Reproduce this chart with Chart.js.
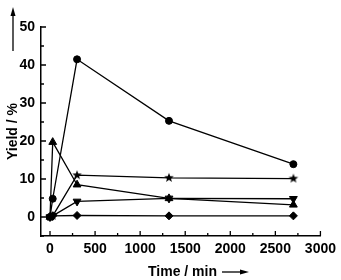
<!DOCTYPE html>
<html>
<head>
<meta charset="utf-8">
<script src="https://cdn.jsdelivr.net/npm/chart.js@4"></script>
<style>
  html, body { margin: 0; padding: 0; background: #fff; }
  #wrap { width: 341px; height: 280px; }
</style>
</head>
<body>
<div id="wrap"><canvas id="myChart"></canvas></div>
<script>
// data
let times = [0, 30, 300, 1320, 2700];
let circleYield = [0, 4.8, 41.5, 25.3, 13.9];
let starYield = [0, 0.3, 11.0, 10.3, 10.1];
let triUpYield = [0, 19.7, 8.5, 4.9, 3.2];
let triDownYield = [0, 0.3, 4.1, 4.9, 4.8];
let diamondYield = [0, 0.3, 0.4, 0.3, 0.3];

let xTicks = [0, 500, 1000, 1500, 2000, 2500, 3000];
let yTicks = [0, 10, 20, 30, 40, 50];

Chart.defaults.font.family = 'Liberation Sans, Arial, sans-serif';
Chart.defaults.font.weight = 700;
Chart.defaults.font.size = 14;
let font = { family: 'Liberation Sans, Arial, sans-serif', size: 14, weight: 700 };

// filled five point star for the star series
function makeStar(r) {
    let c = document.createElement('canvas');
    c.width = r * 2 + 2;
    c.height = r * 2 + 2;
    let g = c.getContext('2d');
    g.beginPath();
    for (let i = 0; i < 10; i++) {
        let a = -Math.PI / 2 + i * Math.PI / 5;
        let rr = i % 2 === 0 ? r : r * 0.42;
        g.lineTo(r + 1 + rr * Math.cos(a), r + 1 + rr * Math.sin(a));
    }
    g.closePath();
    g.fillStyle = '#000';
    g.fill();
    return c;
}

function pts(ys) {
    return times.map((t, i) => ({ x: t, y: ys[i] }));
}

function series(ys, style, radius, rotation) {
    return {
        data: pts(ys),
        borderColor: '#000',
        backgroundColor: '#000',
        borderWidth: 1.3,
        pointStyle: style,
        pointRadius: radius,
        pointRotation: rotation || 0,
        pointBorderWidth: 1,
        pointBorderColor: '#000',
        pointBackgroundColor: '#000',
        tension: 0
    };
}

// inward ticks, axis titles and arrows
let decorations = {
    id: 'decorations',
    afterDraw(chart) {
        let ctx = chart.ctx;
        let xs = chart.scales.x;
        let ys = chart.scales.y;
        let area = chart.chartArea;
        ctx.save();
        ctx.strokeStyle = '#000';
        ctx.fillStyle = '#000';
        ctx.lineWidth = 1.3;
        ctx.beginPath();
        for (let v = 0; v <= 3000; v += 250) {
            let px = xs.getPixelForValue(v);
            let len = v % 500 === 0 ? 5 : 3;
            ctx.moveTo(px, area.bottom);
            ctx.lineTo(px, area.bottom - len);
        }
        for (let v = -5; v <= 50; v += 5) {
            let py = ys.getPixelForValue(v);
            let len = v % 10 === 0 ? 5 : 3;
            ctx.moveTo(area.left, py);
            ctx.lineTo(area.left + len, py);
        }
        ctx.stroke();

        ctx.font = 'bold 14px "Liberation Sans", Arial, sans-serif';
        ctx.textBaseline = 'middle';

        // x title
        ctx.textAlign = 'left';
        ctx.fillText('Time / min', 148, 272);
        ctx.beginPath();
        ctx.moveTo(222, 272);
        ctx.lineTo(242, 272);
        ctx.stroke();
        ctx.beginPath();
        ctx.moveTo(249, 272);
        ctx.lineTo(240, 269.5);
        ctx.lineTo(240, 274.5);
        ctx.closePath();
        ctx.fill();

        // y title
        ctx.save();
        ctx.translate(13, (area.top + area.bottom) / 2);
        ctx.rotate(-Math.PI / 2);
        ctx.textAlign = 'center';
        ctx.fillText('Yield / %', 0, 0);
        ctx.restore();
        ctx.beginPath();
        ctx.moveTo(13, 51);
        ctx.lineTo(13, 15);
        ctx.stroke();
        ctx.beginPath();
        ctx.moveTo(13, 7);
        ctx.lineTo(10.5, 16);
        ctx.lineTo(15.5, 16);
        ctx.closePath();
        ctx.fill();
        ctx.restore();
    }
};

const ctx = document.getElementById('myChart').getContext('2d');
const myChart = new Chart(ctx, {
    type: 'line',
    data: {
        datasets: [
            series(circleYield, 'circle', 3.5),
            series(starYield, makeStar(5), 5),
            series(triUpYield, 'triangle', 4.5),
            series(triDownYield, 'triangle', 4.5, 180),
            series(diamondYield, 'rectRot', 4)
        ]
    },
    options: {
        responsive: true,
        maintainAspectRatio: false,
        animation: false,
        layout: { padding: { top: 27, right: 17, left: 0, bottom: 0 } },
        plugins: { legend: { display: false }, tooltip: { enabled: false } },
        scales: {
            x: {
                type: 'linear',
                min: -100,
                max: 3000,
                afterBuildTicks: (scale) => { scale.ticks = xTicks.map(v => ({ value: v })); },
                afterFit: (scale) => { scale.height = 44; },
                grid: { display: false, drawTicks: false },
                border: { display: true, color: '#000', width: 1.5 },
                ticks: { color: '#000', font: font, padding: 5, maxRotation: 0, autoSkip: false, callback: (v) => String(v) }
            },
            y: {
                min: -5,
                max: 50,
                afterBuildTicks: (scale) => { scale.ticks = yTicks.map(v => ({ value: v })); },
                afterFit: (scale) => { scale.width = 41; },
                grid: { display: false, drawTicks: false },
                border: { display: true, color: '#000', width: 1.5 },
                ticks: { color: '#000', font: font, padding: 6, callback: (v) => String(v) }
            }
        }
    },
    plugins: [decorations]
});
</script>
</body>
</html>
